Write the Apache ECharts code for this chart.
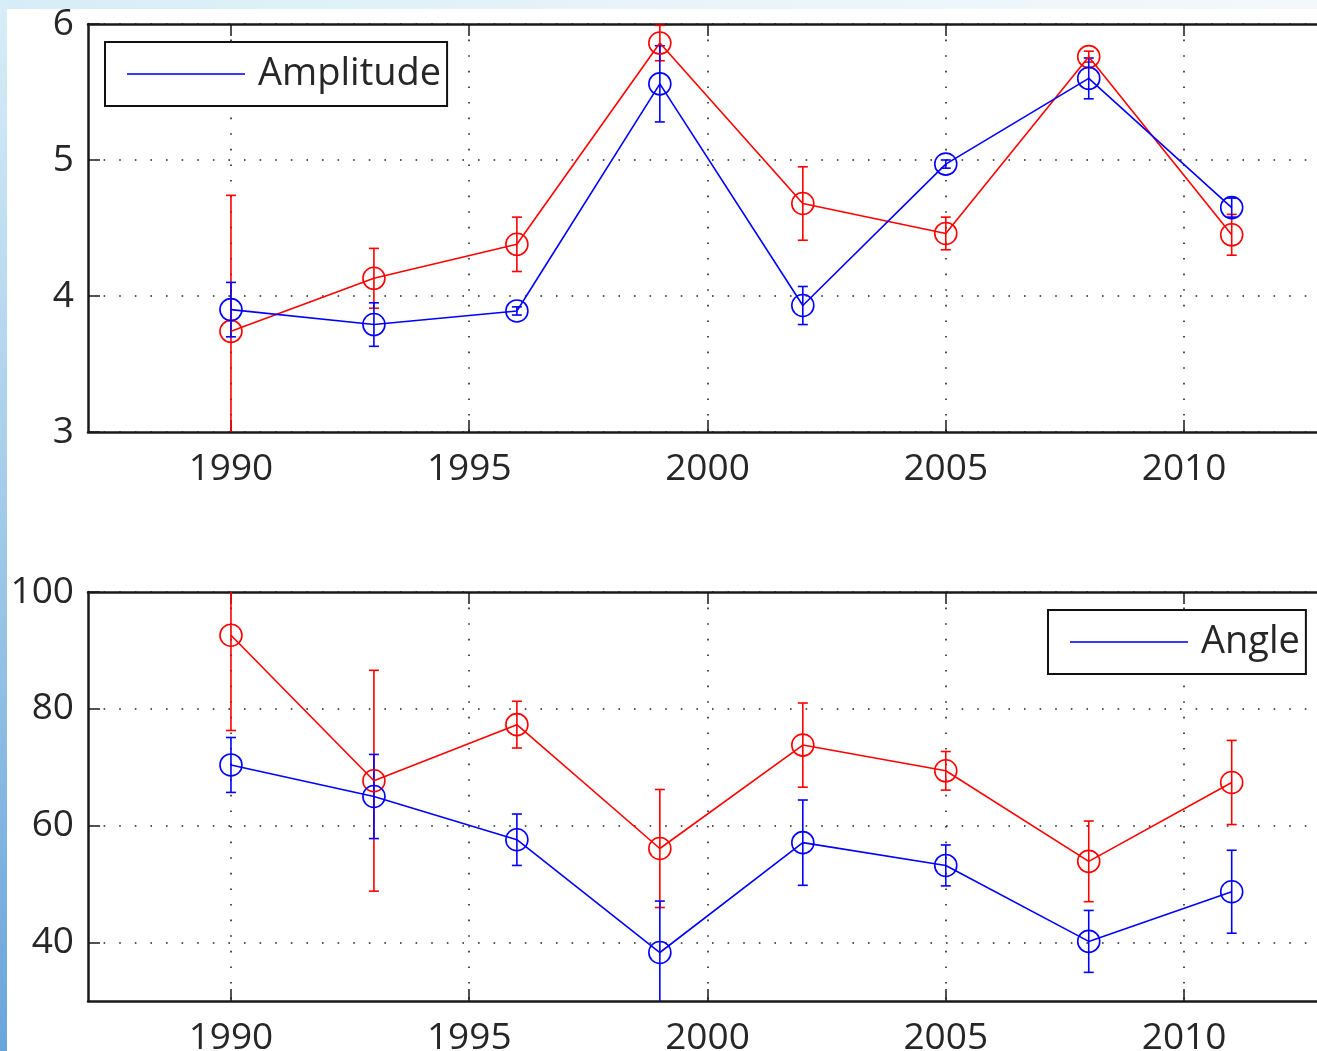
<!DOCTYPE html>
<html>
<head>
<meta charset="utf-8">
<script src="https://cdn.jsdelivr.net/npm/echarts@6/dist/echarts.min.js"></script>
<style>
html, body { margin: 0; padding: 0; background: #fff; }
#main { width: 1317px; height: 1051px; }
</style>
</head>
<body>
<div id="main"></div>
<script>
// sample years (x)
const years = [1990, 1993, 1996, 1999, 2002, 2005, 2008, 2011];
const yearTicks = [1990, 1995, 2000, 2005, 2010];

// top panel: amplitude
const ampBlue = [3.90, 3.79, 3.89, 5.56, 3.93, 4.97, 5.60, 4.65];
const ampBlueErr = [0.20, 0.16, 0.03, 0.28, 0.14, 0.03, 0.15, 0.07];
const ampRed = [3.74, 4.13, 4.38, 5.86, 4.68, 4.46, 5.76, 4.45];
const ampRedErr = [1.00, 0.22, 0.20, 0.13, 0.27, 0.12, 0.04, 0.15];

// bottom panel: angle
const angBlue = [70.4, 65.0, 57.6, 38.3, 57.1, 53.2, 40.2, 48.7];
const angBlueErr = [4.7, 7.2, 4.4, 8.8, 7.3, 3.5, 5.3, 7.1];
const angRed = [92.6, 67.7, 77.3, 56.1, 73.8, 69.4, 53.9, 67.4];
const angRedErr = [16.3, 18.9, 4.0, 10.1, 7.2, 3.3, 6.9, 7.2];
const angTicks = [40, 60, 80, 100];

const FONT = 'Open Sans';
const BLUE = '#0000ff';
const RED = '#ff0000';
const INK = '#262626';

const chart = echarts.init(document.getElementById('main'));

const dotted = { color: '#222', width: 1.6, type: [1.6, 14] };

// the plot box runs past the right edge of the picture, so stop the axis at the edge
function xAxes(gridIndex) {
  const base = {
    type: 'value', gridIndex: gridIndex, min: 1987, max: 2012.79,
    axisLine: { lineStyle: { color: '#1a1a1a', width: 2.5 } },
    axisTick: { inside: true, length: 12, customValues: yearTicks, lineStyle: { color: '#1a1a1a', width: 1.5 } },
  };
  return [
    Object.assign({}, base, {
      position: 'bottom',
      axisLabel: {
        customValues: yearTicks, formatter: (v) => String(v),
        fontFamily: FONT, fontSize: 37, color: INK, margin: 19,
      },
      splitLine: { show: true, lineStyle: dotted },
    }),
    Object.assign({}, base, {
      position: 'top',
      axisLabel: { show: false },
      splitLine: { show: false },
    }),
  ];
}

const yLabel = { fontFamily: FONT, fontSize: 37, color: INK, margin: 14 };
const yLine = { lineStyle: { color: '#1a1a1a', width: 2.5 } };

function lineSeries(name, xi, yi, vals, color) {
  return {
    name: name, type: 'line', xAxisIndex: xi, yAxisIndex: yi,
    data: years.map((y, i) => [y, vals[i]]),
    symbol: 'circle', symbolSize: 22,
    itemStyle: { color: 'rgba(0,0,0,0)', borderColor: color, borderWidth: 1.6 },
    lineStyle: { color: color, width: 1.6 },
    clip: true, z: 3,
  };
}

function errSeries(xi, yi, vals, errs, color) {
  return {
    type: 'custom', xAxisIndex: xi, yAxisIndex: yi,
    data: years.map((y, i) => [y, vals[i], errs[i]]),
    encode: { x: 0, y: 1 },
    clip: true, z: 2,
    renderItem: function (params, api) {
      const x = api.value(0), v = api.value(1), e = api.value(2);
      const hi = api.coord([x, v + e]);
      const lo = api.coord([x, v - e]);
      const c = 5;
      const style = { stroke: color, lineWidth: 1.6, fill: null };
      return {
        type: 'group',
        children: [
          { type: 'line', shape: { x1: hi[0], y1: hi[1], x2: lo[0], y2: lo[1] }, style: style },
          { type: 'line', shape: { x1: hi[0] - c, y1: hi[1], x2: hi[0] + c, y2: hi[1] }, style: style },
          { type: 'line', shape: { x1: lo[0] - c, y1: lo[1], x2: lo[0] + c, y2: lo[1] }, style: style },
        ],
      };
    },
  };
}

function legendBox(name, left, top) {
  return {
    data: [{ name: name, icon: 'rect' }],
    left: left, top: top,
    backgroundColor: '#fff',
    borderColor: '#111', borderWidth: 2, borderRadius: 0,
    padding: [9, 6, 9, 22],
    itemWidth: 118, itemHeight: 2, itemGap: 0,
    itemStyle: { color: '#3a3aff', borderWidth: 0 },
    textStyle: { fontFamily: FONT, fontSize: 38, color: INK, lineHeight: 46, padding: [0, 0, 0, 8] },
    selectedMode: false,
  };
}

chart.setOption({
  animation: false,
  backgroundColor: '#fff',
  graphic: [
    {
      type: 'rect', left: 0, top: 0, z: -10, silent: true,
      shape: { width: 1317, height: 9 },
      style: { fill: new echarts.graphic.LinearGradient(0, 0, 1, 0, [
        { offset: 0, color: '#d6edf7' }, { offset: 0.5, color: '#e8f4f9' }, { offset: 1, color: '#f3f9fb' }]) },
    },
    {
      type: 'rect', left: 0, top: 0, z: -9, silent: true,
      shape: { width: 7, height: 1051 },
      style: { fill: new echarts.graphic.LinearGradient(0, 0, 0, 1, [
        { offset: 0, color: '#d8eef8' }, { offset: 1, color: '#6aa5da' }]) },
    },
  ],
  legend: [legendBox('Amplitude', 105, 42), legendBox('Angle', 1048, 610)],
  grid: [
    { left: 88, top: 24, right: 0, height: 408, outerBoundsMode: 'none' },
    { left: 88, top: 592, right: 0, height: 409, outerBoundsMode: 'none' },
  ],
  xAxis: xAxes(0).concat(xAxes(1)),
  yAxis: [
    {
      type: 'value', gridIndex: 0, min: 3, max: 6, interval: 1,
      axisLine: Object.assign({ show: true }, yLine),
      axisTick: { inside: true, length: 12, lineStyle: { color: '#1a1a1a', width: 1.5 } },
      axisLabel: yLabel,
      splitLine: { show: true, lineStyle: dotted },
    },
    {
      type: 'value', gridIndex: 1, min: 30, max: 100,
      axisLine: Object.assign({ show: true }, yLine),
      axisTick: { inside: true, length: 12, customValues: angTicks, lineStyle: { color: '#1a1a1a', width: 1.5 } },
      axisLabel: Object.assign({ customValues: angTicks }, yLabel),
      splitLine: { show: true, lineStyle: dotted },
    },
  ],
  series: [
    errSeries(0, 0, ampRed, ampRedErr, RED),
    errSeries(0, 0, ampBlue, ampBlueErr, BLUE),
    lineSeries('Amplitude (red)', 0, 0, ampRed, RED),
    lineSeries('Amplitude', 0, 0, ampBlue, BLUE),
    errSeries(2, 1, angRed, angRedErr, RED),
    errSeries(2, 1, angBlue, angBlueErr, BLUE),
    lineSeries('Angle (red)', 2, 1, angRed, RED),
    lineSeries('Angle', 2, 1, angBlue, BLUE),
  ],
});
</script>
</body>
</html>
